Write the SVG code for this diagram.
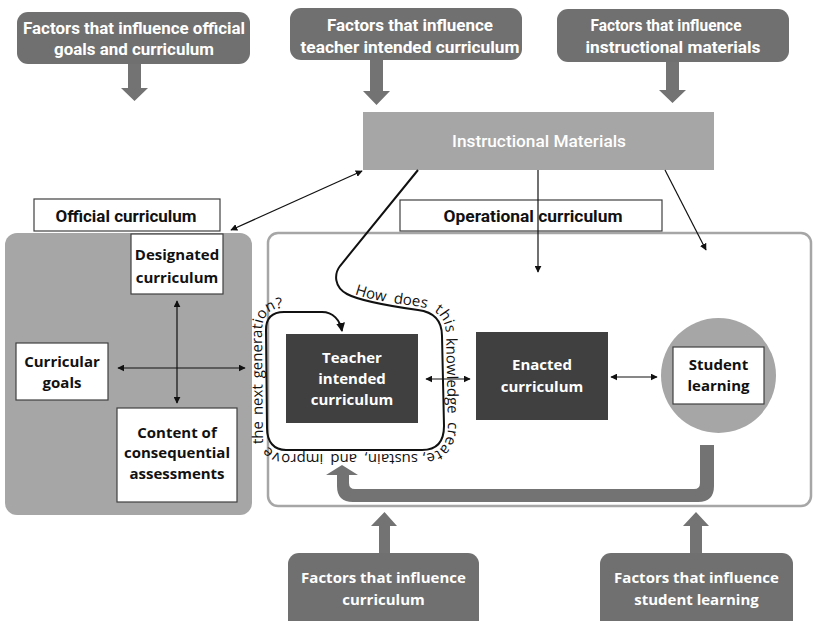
<svg xmlns="http://www.w3.org/2000/svg" xmlns:xlink="http://www.w3.org/1999/xlink" width="814" height="621" viewBox="0 0 814 621">
<style>
.factor{fill:#707070}
.fw{fill:#fff;font-family:Roboto,"Open Sans",sans-serif;font-weight:700;font-size:16px;text-anchor:middle}
.fb{fill:#fff;font-family:"Open Sans",sans-serif;font-weight:700;font-size:15px;text-anchor:middle}
.bk{fill:#111;font-family:"Open Sans",sans-serif;font-weight:700;font-size:15px;text-anchor:middle}
.lbl{fill:#111;font-family:Roboto,"Open Sans",sans-serif;font-weight:700;font-size:16px;text-anchor:middle}
.wbox{fill:#fff;stroke:#404040;stroke-width:1.2}
.dark{fill:#404040}
.thin{fill:none;stroke:#111;stroke-width:1.2}
.thick{fill:#737373}
.loopt{font-family:"Open Sans",sans-serif;font-size:15px;fill:#111}
</style>
<defs>
<marker id="ah" viewBox="0 0 10 10" refX="9" refY="5" markerWidth="7" markerHeight="7" markerUnits="userSpaceOnUse" orient="auto-start-reverse">
<path d="M0,0 L10,5 L0,10 Z" fill="#111"/>
</marker>
<marker id="ah2" viewBox="0 0 10 10" refX="9" refY="5" markerWidth="9" markerHeight="9" markerUnits="userSpaceOnUse" orient="auto">
<path d="M0,0 L10,5 L0,10 Z" fill="#111"/>
</marker>
<path id="tpT" d="M352,293 C365,299 392,303 418,306.5 C437,309 446,318 446,336 L446.3,360"/>
<path id="tpR" d="M446,330 L448,424 C448,444 440,454 422,454 L400,454"/>
<path id="tpB" d="M430,454 L286,454 C271,454 263,444 263,428 L262.8,415"/>
<path id="tpL" d="M263,452 L262,330 C262,316 270,308 284,308 L300,308"/>
</defs>

<!-- panels -->
<g id="official-panel">
<rect x="5" y="233" width="247" height="282" rx="12" fill="#a6a6a6"/>
</g>
<g id="operational-panel">
<rect x="268" y="233" width="543" height="273" rx="10" fill="#fff" stroke="#a6a6a6" stroke-width="2.5"/>
</g>

<!-- top factor boxes -->
<g id="f-official">
<rect class="factor" x="17" y="12" width="233" height="52" rx="11"/>
<text class="fw" x="134" y="34" textLength="222" lengthAdjust="spacingAndGlyphs">Factors that influence official</text>
<text class="fw" x="134" y="55" textLength="160" lengthAdjust="spacingAndGlyphs">goals and curriculum</text>
</g>
<g id="f-teacher">
<rect class="factor" x="290" y="8" width="232" height="52" rx="11"/>
<text class="fw" x="410" y="31" textLength="166" lengthAdjust="spacingAndGlyphs">Factors that influence</text>
<text class="fw" x="410" y="53" textLength="219" lengthAdjust="spacingAndGlyphs">teacher intended curriculum</text>
</g>
<g id="f-materials">
<rect class="factor" x="557" y="9" width="232" height="53" rx="11"/>
<text class="fw" x="666" y="31" textLength="151" lengthAdjust="spacingAndGlyphs">Factors that influence</text>
<text class="fw" x="673" y="53" textLength="175" lengthAdjust="spacingAndGlyphs">instructional materials</text>
</g>

<!-- instructional materials -->
<g id="instructional-materials">
<rect x="363" y="112" width="351" height="58" fill="#a6a6a6"/>
<text x="539" y="147" fill="#fff" font-family="Roboto,'Open Sans',sans-serif" font-size="17" font-weight="500" text-anchor="middle" textLength="174" lengthAdjust="spacingAndGlyphs">Instructional Materials</text>
</g>

<!-- labels -->
<g id="official-label">
<rect class="wbox" x="34" y="199" width="186" height="32" stroke-width="1.5"/>
<text class="lbl" x="126" y="222" textLength="141" lengthAdjust="spacingAndGlyphs">Official curriculum</text>
</g>
<g id="operational-label">
<rect class="wbox" x="400" y="200" width="262" height="31" stroke-width="1.5"/>
<text class="lbl" x="533" y="222" textLength="179" lengthAdjust="spacingAndGlyphs">Operational curriculum</text>
</g>

<!-- official nodes -->
<g id="designated">
<rect class="wbox" x="131" y="234" width="92" height="60"/>
<text class="bk" x="177" y="260">Designated</text>
<text class="bk" x="177" y="283">curriculum</text>
</g>
<g id="curricular-goals">
<rect class="wbox" x="16" y="343" width="92" height="57"/>
<text class="bk" x="62" y="367">Curricular</text>
<text class="bk" x="62" y="388">goals</text>
</g>
<g id="assessments">
<rect class="wbox" x="117" y="408" width="120" height="94"/>
<text class="bk" x="177" y="438">Content of</text>
<text class="bk" x="177" y="458">consequential</text>
<text class="bk" x="177" y="479">assessments</text>
</g>

<!-- operational nodes -->
<g id="teacher">
<rect class="dark" x="286" y="334" width="132" height="89"/>
<text class="fb" x="352" y="363">Teacher</text>
<text class="fb" x="352" y="384">intended</text>
<text class="fb" x="352" y="405">curriculum</text>
</g>
<g id="enacted">
<rect class="dark" x="476" y="332" width="132" height="88"/>
<text class="fb" x="542" y="370">Enacted</text>
<text class="fb" x="542" y="392">curriculum</text>
</g>
<g id="student">
<circle cx="718.5" cy="375.5" r="57.5" fill="#a6a6a6"/>
<rect class="wbox" x="673" y="347" width="91" height="57" stroke-width="1.5"/>
<text class="bk" x="718.5" y="370">Student</text>
<text class="bk" x="718.5" y="391">learning</text>
</g>

<!-- bottom factor boxes -->
<g id="f-curriculum">
<rect class="factor" x="288" y="553" width="191" height="80" rx="11"/>
<text class="fb" x="383.5" y="583">Factors that influence</text>
<text class="fb" x="383.5" y="605">curriculum</text>
</g>
<g id="f-student">
<rect class="factor" x="600" y="553" width="193" height="80" rx="11"/>
<text class="fb" x="696.5" y="583">Factors that influence</text>
<text class="fb" x="696.5" y="605">student learning</text>
</g>

<!-- connectors -->
<g id="connectors">
<path class="thick" d="M128,64 H141 V88 H148 L134.5,101 L121,88 H128 Z"/>
<path class="thick" d="M370,60 H383 V91 H390 L376.5,105 L363,91 H370 Z"/>
<path class="thick" d="M666,62 H679 V90 H686 L672.5,103 L659,90 H666 Z"/>
<path class="thick" d="M379,553 H390 V526 H397 L384.5,512 L371,526 H379 Z"/>
<path class="thick" d="M690,553 H702 V526 H709 L696,512 L683,526 H690 Z"/>
<path class="thick" d="M714,445 L714,486 Q714,502 698,502 L353,502 Q337,502 337,486 L337,475 L326,475 L342,465 L358,475 L349,475 L349,483 Q349,489 355,489 L694,489 Q700,489 700,483 L700,445 Z"/>
<line class="thin" x1="362" y1="171" x2="231" y2="230" marker-start="url(#ah)" marker-end="url(#ah)"/>
<line class="thin" x1="538" y1="170" x2="538" y2="272" marker-end="url(#ah)"/>
<line class="thin" x1="665" y1="170" x2="706" y2="250" marker-end="url(#ah)"/>
<line class="thin" x1="177" y1="301" x2="177" y2="403" marker-start="url(#ah)" marker-end="url(#ah)"/>
<line class="thin" x1="118" y1="368" x2="245" y2="368" marker-start="url(#ah)" marker-end="url(#ah)"/>
<line class="thin" x1="426" y1="379" x2="470" y2="379" marker-start="url(#ah)" marker-end="url(#ah)"/>
<line class="thin" x1="611" y1="377" x2="657" y2="377" marker-start="url(#ah)" marker-end="url(#ah)"/>
<path fill="none" stroke="#111" stroke-width="2" d="M418,170 L340,266 C334,274 334,287 347,294 C360,301 390,306 418,310 C434,312 442,320 442,336 L444,426 C444,442 436,450 422,450 L286,450 C274,450 267,442 267,428 L266,330 C266,318 272,312 284,312 L322,312 C333,312 340,320 342,331" marker-end="url(#ah2)"/>
<text class="loopt" word-spacing="4"><textPath xlink:href="#tpT" href="#tpT" startOffset="3">How does this</textPath></text>
<text class="loopt"><textPath xlink:href="#tpR" href="#tpR" startOffset="8">knowledge</textPath></text>
<text class="loopt"><textPath xlink:href="#tpR" href="#tpR" startOffset="92">create,</textPath></text>
<text class="loopt" word-spacing="3"><textPath xlink:href="#tpB" href="#tpB" startOffset="12">sustain, and improve</textPath></text>
<text class="loopt" word-spacing="2"><textPath xlink:href="#tpL" href="#tpL" startOffset="8">the next generation?</textPath></text>
</g>
</svg>
